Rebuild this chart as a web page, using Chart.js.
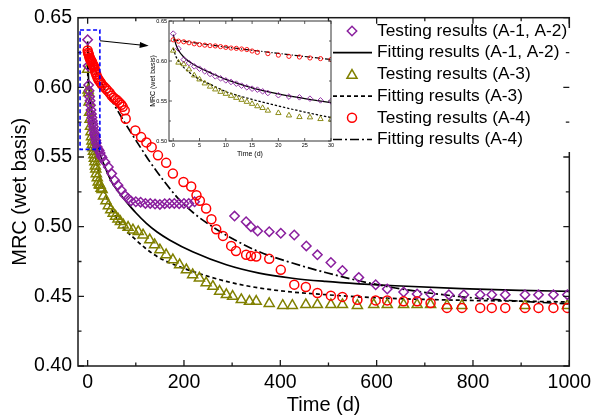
<!DOCTYPE html>
<html>
<head>
<meta charset="utf-8">
<script src="https://cdn.jsdelivr.net/npm/chart.js@4.4.1/dist/chart.umd.min.js"></script>
<style>
  html, body { margin: 0; padding: 0; background: #fff; }
  #wrap { position: relative; width: 596px; height: 419px; }
  #main { position: absolute; left: 0; top: 0; }
  #inset { position: absolute; left: 140px; top: 10px; }
</style>
</head>
<body>
<div id="wrap">
  <canvas id="main" width="596" height="419"></canvas>
  <canvas id="inset" width="200" height="155"></canvas>
</div>
<script>
// testing results (A-1, A-2)
const daysA12 = [0,1,2,3,4,5,6,7,8,9,10,11,12,13,14,15,16,17,18,20,22,24,26,28,30,
  36,43,50,56,63,70,77,84,90,100,110,120,130,140,150,160,170,180,190,200,210,222,
  305,329,339,353,377,401,429,454,477,505,529,563,598,622,656,684,712,750,781,815,839,867,908,936,967,996];
const mrcA12 = [0.6342,0.6154,0.6017,0.5975,0.5933,0.5904,0.5871,0.5838,0.5808,0.5783,0.5758,0.5738,0.5717,0.5692,0.5671,0.5654,0.5642,0.5621,0.5600,0.5572,0.5555,0.5546,0.5529,0.5508,0.5496,
  0.5464,0.5429,0.5381,0.5333,0.5298,0.5262,0.5225,0.5203,0.5185,0.5179,0.5176,0.5167,0.5167,0.5162,0.5160,0.5165,0.5167,0.5167,0.5165,0.5167,0.5167,0.5179,
  0.5076,0.5036,0.5000,0.4969,0.4964,0.4953,0.4940,0.4862,0.4798,0.4743,0.4686,0.4636,0.4583,0.4553,0.4531,0.4517,0.4517,0.4512,0.4512,0.4512,0.4512,0.4512,0.4512,0.4512,0.4512,0.4512];

// testing results (A-3)
const daysA3 = [0,1,2,3,4,5,6,7,8,9,10,11,12,13,14,15,16,17,18,20,22,24,26,28,30,
  33,38,43,48,53,58,63,68,74,84,94,105,115,129,139,150,163,177,191,205,218,232,246,260,274,288,301,319,336,350,377,405,425,
  453,477,505,529,560,594,622,656,684,712,746,777,908,996];
const mrcA3 = [0.6130,0.5980,0.5960,0.5895,0.5820,0.5770,0.5720,0.5680,0.5645,0.5615,0.5590,0.5565,0.5540,0.5515,0.5490,0.5465,0.5435,0.5413,0.5380,0.5350,0.5320,0.5300,0.5296,0.5275,0.5267,
  0.5220,0.5185,0.5150,0.5120,0.5096,0.5075,0.5055,0.5036,0.5012,0.4995,0.4976,0.4964,0.4940,0.4905,0.4870,0.4833,0.4798,0.4762,0.4726,0.4690,0.4655,0.4631,0.4596,0.4571,0.4536,0.4512,0.4500,0.4476,0.4464,0.4464,0.4448,0.4434,0.4434,
  0.4440,0.4440,0.4440,0.4440,0.4434,0.4440,0.4440,0.4440,0.4440,0.4440,0.4434,0.4434,0.4434,0.4434];

// testing results (A-4)
const daysA4 = [0,1,2,3,4,5,6,7,8,9,10,11,12,13,14,15,16,18,20,22,24,26,28,30,
  34,38,42,46,50,54,58,62,66,70,73,77,79,99,111,122,133,146,163,177,199,215,226,233,246,257,267,281,298,308,329,339,350,377,401,429,453,477,
  505,529,560,598,622,656,684,712,746,777,815,839,867,908,936,967,996];
const mrcA4 = [0.6265,0.6248,0.6240,0.6228,0.6215,0.6205,0.6198,0.6192,0.6188,0.6180,0.6170,0.6162,0.6158,0.6150,0.6143,0.6125,0.6108,0.6092,0.6073,0.6058,0.6050,0.6038,0.6030,0.6018,
  0.6005,0.5990,0.5975,0.5960,0.5940,0.5925,0.5915,0.5905,0.5890,0.5875,0.5860,0.5835,0.5775,0.5690,0.5643,0.5605,0.5571,0.5512,0.5458,0.5381,0.5321,0.5288,0.5226,0.5186,0.5131,0.5053,0.4981,0.4934,0.4862,0.4826,0.4798,0.4790,0.4786,0.4769,0.4690,0.4584,0.4567,0.4524,
  0.4505,0.4496,0.4476,0.4471,0.4471,0.4464,0.4464,0.4452,0.4417,0.4417,0.4417,0.4417,0.4417,0.4417,0.4417,0.4417,0.4417];

// fitting curves
const fitDaysA12 = [0,0.5,1,2,3,5,7,10,15,20,25,30,40,50,65,80,100,122,145,170,218,288,356,425,494,563,639,776,900,1000];
const fitA12 = [0.633,0.621,0.6135,0.605,0.5995,0.5915,0.5855,0.577,0.5665,0.5588,0.553,0.548,0.5395,0.532,0.5245,0.518,0.510,0.5024,0.496,0.4905,0.482,0.4727,0.4667,0.463,0.4607,0.459,0.4576,0.4555,0.4543,0.4536];
const fitDaysA3 = [0,0.5,1,2,3,5,7,10,15,20,25,30,40,50,65,80,94,120,150,185,218,288,356,425,494,563,650,776,900,1000];
const fitA3 = [0.616,0.606,0.600,0.592,0.586,0.577,0.571,0.5618,0.552,0.5438,0.5362,0.5295,0.5205,0.5125,0.5035,0.497,0.4925,0.4845,0.4774,0.472,0.4679,0.4607,0.456,0.4531,0.4512,0.4496,0.4483,0.4472,0.4465,0.446];
const fitDaysA4 = [0,10,20,30,50,70,90,110,130,160,190,220,260,300,356,425,494,563,639,776,900,1000];
const fitA4 = [0.6265,0.6175,0.6095,0.602,0.5905,0.5787,0.5675,0.5567,0.5462,0.532,0.5195,0.5098,0.4998,0.4915,0.482,0.4739,0.4671,0.4612,0.456,0.4497,0.4465,0.4445];

const legendLabels = ['Testing results (A-1, A-2)', 'Fitting results (A-1, A-2)', 'Testing results (A-3)',
  'Fitting results (A-3)', 'Testing results (A-4)', 'Fitting results (A-4)'];

const xTicksMain = [0, 200, 400, 600, 800, 1000];
const xMinorMain = [100, 300, 500, 700, 900];
const yTicksMain = [0.40, 0.45, 0.50, 0.55, 0.60, 0.65];
const yMinorMain = [0.425, 0.475, 0.525, 0.575, 0.625];
const xTicksInset = [0, 5, 10, 15, 20, 25, 30];
const yTicksInset = [0.50, 0.55, 0.60, 0.65];
const yMinorInset = [0.525, 0.575, 0.625];

const purple = '#8a1f9e', olive = '#808000', red = '#ff0000';
const dashA3 = [4, 3], dashA4 = [9, 3, 2, 3];

Chart.defaults.font.family = "'Liberation Sans', Arial, sans-serif";
Chart.defaults.color = '#000';

function pts(days, vals) {
  return days.map((d, i) => ({ x: d, y: vals[i] }));
}

function markers(days, vals, style, color, r, bw, order) {
  return {
    data: pts(days, vals), showLine: false, pointStyle: style, pointRadius: r,
    pointBorderColor: color, pointBackgroundColor: 'rgba(0,0,0,0)', pointBorderWidth: bw, order: order
  };
}

function fitLine(days, vals, dash, w) {
  return {
    data: pts(days, vals), showLine: true, pointRadius: 0, borderColor: '#000', borderWidth: w,
    borderDash: dash, cubicInterpolationMode: 'monotone', order: 10
  };
}

function buildSets(big) {
  const w = big ? 1.7 : 1.2;
  const k = big ? 1 : 0.6;
  const bw = big ? 1.5 : 0.9;
  return [
    fitLine(fitDaysA12, fitA12, [], w),
    fitLine(fitDaysA3, fitA3, dashA3.map(v => v * k), w),
    fitLine(fitDaysA4, fitA4, dashA4.map(v => v * k), w),
    markers(daysA3, mrcA3, 'triangle', olive, big ? 5.8 : 3.1, bw, 3),
    markers(daysA12, mrcA12, 'rectRot', purple, big ? 4.7 : 2.8, bw, 2),
    markers(daysA4, mrcA4, 'circle', red, big ? 4.5 : 2.1, bw, 1)
  ];
}

function drawTicks(chart, xs, xm, ys, ym, big, small) {
  const { ctx, chartArea: a, scales: { x, y } } = chart;
  ctx.beginPath();
  const vx = (v, len) => { const p = x.getPixelForValue(v); ctx.moveTo(p, a.bottom); ctx.lineTo(p, a.bottom - len); ctx.moveTo(p, a.top); ctx.lineTo(p, a.top + len); };
  const hy = (v, len) => { const p = y.getPixelForValue(v); ctx.moveTo(a.left, p); ctx.lineTo(a.left + len, p); ctx.moveTo(a.right, p); ctx.lineTo(a.right - len, p); };
  xs.forEach(v => vx(v, big)); xm.forEach(v => vx(v, small));
  ys.forEach(v => hy(v, big)); ym.forEach(v => hy(v, small));
  ctx.stroke();
}

function drawMarker(ctx, style, x, y, r) {
  ctx.beginPath();
  if (style === 'rectRot') {
    ctx.moveTo(x - r, y); ctx.lineTo(x, y - r); ctx.lineTo(x + r, y); ctx.lineTo(x, y + r); ctx.closePath();
  } else if (style === 'triangle') {
    ctx.moveTo(x, y - r); ctx.lineTo(x + 0.866 * r, y + 0.5 * r); ctx.lineTo(x - 0.866 * r, y + 0.5 * r); ctx.closePath();
  } else {
    ctx.arc(x, y, r, 0, Math.PI * 2);
  }
  ctx.stroke();
}

// zoom box and arrow, in data units of the main chart
const zoomBox = { x0: -15.7, x1: 25.4, y0: 0.5555, y1: 0.6412 };
const arrowFrom = { x: 25.5, y: 0.6334 }, arrowTo = { x: 126.8, y: 0.6298 };

const mainDecor = {
  id: 'mainDecor',
  beforeDraw(chart) {
    const ctx = chart.ctx;
    ctx.save(); ctx.fillStyle = '#fff'; ctx.fillRect(0, 0, chart.width, chart.height); ctx.restore();
  },
  afterDatasetsDraw(chart) {
    const { ctx, chartArea: a, scales: { x, y } } = chart;
    ctx.save();
    ctx.strokeStyle = '#1a1a1a'; ctx.lineWidth = 1.5;
    ctx.strokeRect(a.left, a.top, a.right - a.left, a.bottom - a.top);

    // legend background hides the right frame there
    ctx.fillStyle = '#fff';
    ctx.fillRect(332, 28, 243, 124);

    ctx.lineWidth = 1.3;
    drawTicks(chart, xTicksMain, xMinorMain, yTicksMain, yMinorMain, 6, 3.5);

    // zoom box
    ctx.strokeStyle = '#0000ff'; ctx.lineWidth = 1.6; ctx.setLineDash([4, 2.5]);
    const bx0 = x.getPixelForValue(zoomBox.x0), bx1 = x.getPixelForValue(zoomBox.x1);
    const by0 = y.getPixelForValue(zoomBox.y1), by1 = y.getPixelForValue(zoomBox.y0);
    ctx.strokeRect(bx0, by0, bx1 - bx0, by1 - by0);
    ctx.setLineDash([]);

    // arrow
    const ax0 = x.getPixelForValue(arrowFrom.x), ay0 = y.getPixelForValue(arrowFrom.y);
    const ax1 = x.getPixelForValue(arrowTo.x), ay1 = y.getPixelForValue(arrowTo.y);
    const ang = Math.atan2(ay1 - ay0, ax1 - ax0);
    ctx.strokeStyle = '#000'; ctx.fillStyle = '#000'; ctx.lineWidth = 1.1;
    ctx.beginPath(); ctx.moveTo(ax0, ay0); ctx.lineTo(ax1 - 6 * Math.cos(ang), ay1 - 6 * Math.sin(ang)); ctx.stroke();
    ctx.beginPath();
    ctx.moveTo(ax1, ay1);
    ctx.lineTo(ax1 - 9 * Math.cos(ang) + 3 * Math.sin(ang), ay1 - 9 * Math.sin(ang) - 3 * Math.cos(ang));
    ctx.lineTo(ax1 - 9 * Math.cos(ang) - 3 * Math.sin(ang), ay1 - 9 * Math.sin(ang) + 3 * Math.cos(ang));
    ctx.closePath(); ctx.fill();

    // legend
    const rows = [31, 52.7, 74.4, 96.1, 117.8, 139.5];
    ctx.font = "17.3px 'Liberation Sans', Arial, sans-serif";
    ctx.textBaseline = 'middle'; ctx.textAlign = 'left';
    legendLabels.forEach((t, i) => {
      ctx.fillStyle = '#000';
      ctx.fillText(t, 377, rows[i]);
    });
    ctx.lineWidth = 1.5;
    ctx.strokeStyle = purple; drawMarker(ctx, 'rectRot', 352, rows[0], 4.7);
    ctx.strokeStyle = olive; drawMarker(ctx, 'triangle', 352, rows[2] + 1, 5.8);
    ctx.strokeStyle = red; drawMarker(ctx, 'circle', 352, rows[4], 4.5);
    ctx.strokeStyle = '#000'; ctx.lineWidth = 1.7;
    [[], dashA3, dashA4].forEach((d, i) => {
      ctx.setLineDash(d);
      ctx.beginPath(); ctx.moveTo(333, rows[i * 2 + 1]); ctx.lineTo(372, rows[i * 2 + 1]); ctx.stroke();
    });
    ctx.restore();
  }
};

new Chart(document.getElementById('main'), {
  type: 'scatter',
  data: { datasets: buildSets(true) },
  options: {
    responsive: false, animation: false,
    layout: { padding: { top: 17, right: 24, left: 0, bottom: 0 } },
    plugins: { legend: { display: false }, tooltip: { enabled: false } },
    scales: {
      x: {
        type: 'linear', min: -20, max: 1000,
        grid: { display: false, drawTicks: false, tickLength: 0 }, border: { display: false },
        afterBuildTicks: s => { s.ticks = xTicksMain.map(v => ({ value: v })); },
        afterFit: s => { s.height = 53; },
        ticks: { font: { size: 19.5 }, padding: 5, maxRotation: 0, callback: v => String(v) },
        title: { display: true, text: 'Time (d)', font: { size: 20 }, padding: { top: 0, bottom: 2 } }
      },
      y: {
        type: 'linear', min: 0.40, max: 0.65,
        grid: { display: false, drawTicks: false, tickLength: 0 }, border: { display: false },
        afterBuildTicks: s => { s.ticks = yTicksMain.map(v => ({ value: v })); },
        afterFit: s => { s.width = 78; },
        ticks: { font: { size: 19.5 }, padding: 6, callback: v => v.toFixed(2) },
        title: { display: true, text: 'MRC (wet basis)', font: { size: 20 }, padding: { top: 8.5, bottom: 0 } }
      }
    }
  },
  plugins: [mainDecor]
});

const insetDecor = {
  id: 'insetDecor',
  beforeDatasetsDraw(chart) {
    const { ctx, chartArea: a } = chart;
    ctx.save(); ctx.fillStyle = '#fff'; ctx.fillRect(a.left, a.top, a.right - a.left, a.bottom - a.top); ctx.restore();
  },
  afterDatasetsDraw(chart) {
    const { ctx, chartArea: a } = chart;
    ctx.save();
    ctx.strokeStyle = '#333'; ctx.lineWidth = 1;
    ctx.strokeRect(a.left, a.top, a.right - a.left, a.bottom - a.top);
    ctx.lineWidth = 0.8;
    drawTicks(chart, xTicksInset, [], yTicksInset, yMinorInset, 3, 2);
    ctx.restore();
  }
};

new Chart(document.getElementById('inset'), {
  type: 'scatter',
  data: { datasets: buildSets(false) },
  options: {
    responsive: false, animation: false,
    layout: { padding: { top: 11, right: 9, left: 0, bottom: 0 } },
    plugins: { legend: { display: false }, tooltip: { enabled: false } },
    scales: {
      x: {
        type: 'linear', min: -0.8, max: 30,
        grid: { display: false, drawTicks: false, tickLength: 0 }, border: { display: false },
        afterBuildTicks: s => { s.ticks = xTicksInset.map(v => ({ value: v })); },
        afterFit: s => { s.height = 24; },
        ticks: { font: { size: 5.5 }, padding: 1.5, maxRotation: 0, callback: v => String(v) },
        title: { display: true, text: 'Time (d)', font: { size: 7 }, padding: { top: 0, bottom: 6.5 } }
      },
      y: {
        type: 'linear', min: 0.50, max: 0.65,
        grid: { display: false, drawTicks: false, tickLength: 0 }, border: { display: false },
        afterBuildTicks: s => { s.ticks = yTicksInset.map(v => ({ value: v })); },
        afterFit: s => { s.width = 29; },
        ticks: { font: { size: 5.5 }, padding: 2, callback: v => v.toFixed(2) },
        title: { display: true, text: 'MRC (wet basis)', font: { size: 7 }, padding: { top: 8.8, bottom: 0 } }
      }
    }
  },
  plugins: [insetDecor]
});
</script>
</body>
</html>
